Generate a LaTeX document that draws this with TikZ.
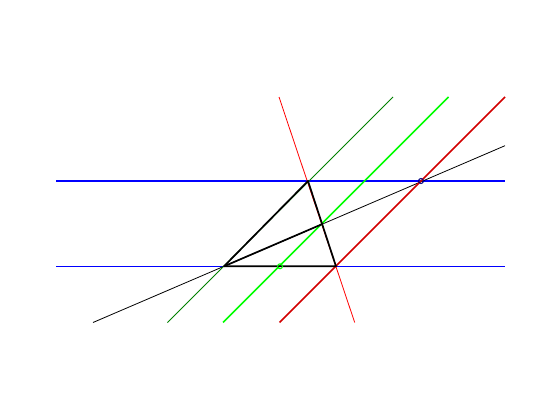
\documentclass[tikz,border=0pt]{standalone}
\usetikzlibrary{calc}
\begin{document}
\begin{tikzpicture}[x=1pt,y=-1pt,
  thinln/.style={line width=0.8pt},
  thickln/.style={line width=1.7pt},
  mk/.style={line width=1pt}]
\definecolor{dgreen}{RGB}{0,128,0}
\definecolor{bgreen}{RGB}{0,255,0}
\definecolor{dred}{RGB}{210,0,0}
\definecolor{navy}{RGB}{0,0,128}
\useasboundingbox (0,0) rectangle (560,420);
\coordinate (A) at (224,266.3);
\coordinate (B) at (308,181);
\coordinate (C) at (336,266.3);
\coordinate (D) at (322,224.2);
\coordinate (E) at (280,266.3);
\coordinate (F) at (421,181);
% line end points
\coordinate (r1) at (279,97);   \coordinate (r2) at (354.7,322.5);
\coordinate (k1) at (93,322.5); \coordinate (k2) at (505,145.7);
\coordinate (g1) at (167.5,322.5); \coordinate (g2) at (393,97);
\coordinate (h1) at (223,322.5); \coordinate (h2) at (448.5,97);
\coordinate (d1) at (279.5,322.5); \coordinate (d2) at (505,97);
\coordinate (b1) at (56,181);   \coordinate (b2) at (505,181);
\coordinate (c1) at (56,266.3); \coordinate (c2) at (505,266.3);
% blue horizontals
\draw[blue,thickln] (b1) -- (b2);
\draw[blue,thinln] (c1) -- (c2);
% red line through B and C
\draw[red,thinln] (r1) -- (r2);
% black line through A and D
\draw[black,thinln] (k1) -- (k2);
% 45-degree lines
\draw[dgreen,thinln] (g1) -- (g2);
\draw[bgreen,thickln] (h1) -- (h2);
\draw[dred,thickln] (d1) -- (d2);
% triangle
\draw[black,thickln,line join=round] (A) -- (B) -- (C) -- cycle;
\draw[black,thickln] (A) -- (D);
\draw[bgreen,mk] (E) circle (2.5);
\draw[navy,mk] (F) circle (2.5);
\end{tikzpicture}
\end{document}
